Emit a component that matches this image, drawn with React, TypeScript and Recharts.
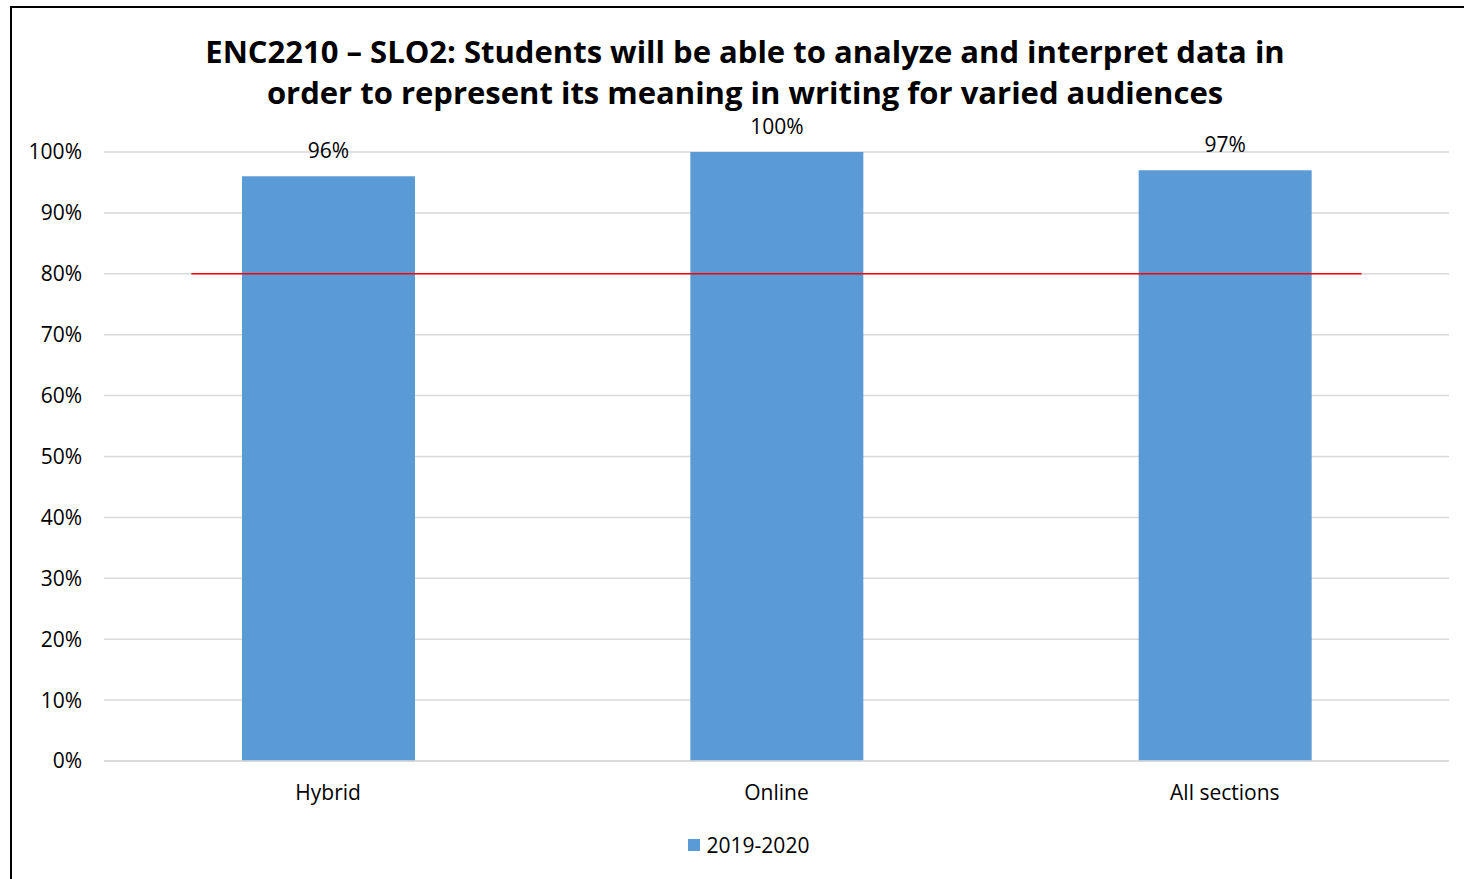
import React from "react";
import {
  BarChart,
  Bar,
  XAxis,
  YAxis,
  CartesianGrid,
  ReferenceLine,
  Legend,
  LabelList,
} from "recharts";

const categories = ["Hybrid", "Online", "All sections"];
const values2019 = [0.96, 1.0, 0.97];
const yTicks = [0, 0.1, 0.2, 0.3, 0.4, 0.5, 0.6, 0.7, 0.8, 0.9, 1.0];
const targetValue = 0.8;
// target line extent, in category-band units (0 = left edge of plot, 3 = right edge)
const targetSpan = [0.195, 2.805];
const seriesName = "2019-2020";
const titleLines = [
  "ENC2210 \u2013 SLO2: Students will be able to analyze and interpret data in",
  "order to represent its meaning in writing for varied audiences",
];

const data = categories.map((c, i) => ({ name: c, v: values2019[i] }));

const FONT = "'Open Sans', sans-serif";
const BAR = "#5b9bd5";

const pct = (v: number) => `${Math.round(v * 100)}%`;

const LegendContent = () => (
  <div
    style={{
      display: "flex",
      justifyContent: "center",
      alignItems: "center",
      height: 24,
      paddingLeft: 36,
      fontFamily: FONT,
      fontSize: 21,
      color: "#000",
    }}
  >
    <span style={{ display: "inline-block", width: 12, height: 12, background: BAR, marginRight: 7 }} />
    <span>{seriesName}</span>
  </div>
);

const TargetShape = (props: any) => {
  const { x1, x2, y1, y2 } = props;
  const n = categories.length;
  const w = x2 - x1;
  return (
    <line
      x1={x1 + (w * targetSpan[0]) / n}
      x2={x1 + (w * targetSpan[1]) / n}
      y1={y1}
      y2={y2}
      stroke="#ff0000"
      strokeWidth={1.5}
    />
  );
};

export default function App() {
  return (
    <div
      style={{
        position: "absolute",
        left: 10,
        top: 6,
        width: 1452,
        height: 871,
        borderTop: "2px solid #000",
        borderLeft: "2px solid #000",
        background: "#fff",
      }}
    >
      <div
        style={{
          position: "absolute",
          left: 13,
          top: 26,
          width: 1440,
          textAlign: "center",
          fontFamily: FONT,
          fontWeight: 700,
          fontSize: 31,
          lineHeight: "34px",
          color: "#000",
          zIndex: 2,
        }}
      >
        {titleLines.map((t, i) => (
          <div key={t} style={{ marginTop: i === 0 ? 0 : 7 }}>
            {t}
          </div>
        ))}
      </div>
      <BarChart
        width={1452}
        height={871}
        data={data}
        margin={{ top: 144, right: 15, bottom: 22, left: 0 }}
        barSize={173}
      >
        <CartesianGrid vertical={false} stroke="#d9d9d9" strokeWidth={1.5} />
        <XAxis
          dataKey="name"
          tickSize={0}
          tickMargin={24}
          height={72}
          axisLine={{ stroke: "#d9d9d9", strokeWidth: 1.5 }}
          tick={{ fill: "#000", fontSize: 21, fontFamily: FONT }}
        />
        <YAxis
          domain={[0, 1]}
          ticks={yTicks}
          tickFormatter={pct}
          width={92}
          tickSize={0}
          tickMargin={22}
          axisLine={false}
          tickLine={false}
          tick={{ fill: "#000", fontSize: 21, fontFamily: FONT }}
        />
        <Legend verticalAlign="bottom" content={<LegendContent />} />
        <Bar dataKey="v" name={seriesName} fill={BAR} isAnimationActive={false}>
          <LabelList
            dataKey="v"
            position="top"
            offset={18}
            formatter={(v: any) => pct(Number(v))}
            style={{ fill: "#000", fontSize: 21, fontFamily: FONT }}
          />
        </Bar>
        <ReferenceLine y={targetValue} stroke="#ff0000" shape={TargetShape} />
      </BarChart>
    </div>
  );
}
